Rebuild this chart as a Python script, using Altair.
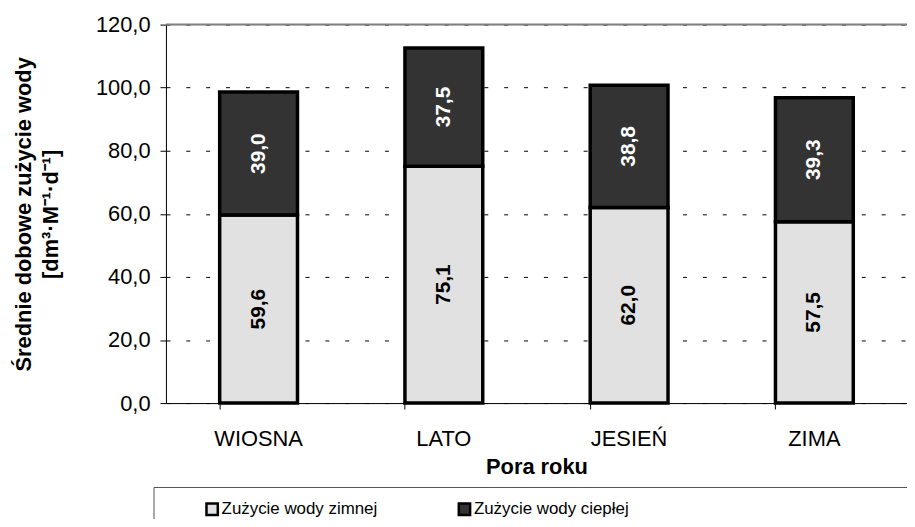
import altair as alt
import pandas as pd

seasons = ["WIOSNA", "LATO", "JESIEŃ", "ZIMA"]
cold = [59.6, 75.1, 62.0, 57.5]
hot = [39.0, 37.5, 38.8, 39.3]
series = ["Zużycie wody zimnej", "Zużycie wody ciepłej"]
y_ticks = [0, 20, 40, 60, 80, 100, 120]

rows = []
for i, s in enumerate(seasons):
    rows.append({"pora": s, "seria": series[0], "wartosc": cold[i], "kol": 0})
    rows.append({"pora": s, "seria": series[1], "wartosc": hot[i], "kol": 1})
df = pd.DataFrame(rows)

FONT = "Liberation Sans"
FS = 22
W, H = 746, 381

x_enc = alt.X(
    "pora:N", sort=seasons,
    scale=alt.Scale(paddingInner=0.58, paddingOuter=0.29),
    axis=alt.Axis(title="Pora roku", labelAngle=0, bandPosition=0, ticks=True,
                  tickSize=6, tickColor="black", domainColor="black",
                  labelFontSize=FS, labelFont=FONT, labelColor="black",
                  labelPadding=20, titleFontSize=FS, titleFont=FONT,
                  titleFontWeight="bold", titleColor="black", titlePadding=7,
                  grid=False),
)
y_scale = alt.Scale(domain=[0, 120], nice=False)

base = alt.Chart(df).transform_stack(
    stack="wartosc", groupby=["pora"], as_=["y0", "y1"],
    sort=[alt.SortField("kol", order="ascending")],
).transform_calculate(
    mid="(datum.y0 + datum.y1) / 2",
    lab="replace(format(datum.wartosc, '.1f'), '.', ',')",
)

bars = base.mark_bar(stroke="black", strokeWidth=3.5).encode(
    x=x_enc,
    y=alt.Y("y0:Q", scale=y_scale,
            axis=alt.Axis(values=y_ticks, title=["Średnie dobowe zużycie wody", "[dm³·M⁻¹·d⁻¹]"],
                          labelExpr="replace(format(datum.value, '.1f'), '.', ',')",
                          labelFontSize=FS, labelFont=FONT, labelColor="black",
                          labelPadding=10, tickSize=6, tickColor="black",
                          domainColor="black", grid=True, gridColor="black",
                          gridDash=[4, 16], gridWidth=1,
                          titleFontSize=FS, titleFont=FONT, titleFontWeight="bold",
                          titleColor="black", titlePadding=33, titleLineHeight=27)),
    y2="y1:Q",
    fill=alt.Fill("seria:N", sort=series,
                  scale=alt.Scale(domain=series, range=["#e1e1e1", "#333333"]),
                  legend=alt.Legend(orient="none", legendX=38, legendY=479,
                                    direction="horizontal", columns=2,
                                    title=None, symbolType="square",
                                    symbolSize=130, symbolStrokeColor="black",
                                    symbolStrokeWidth=2.5, labelFontSize=17,
                                    labelFont=FONT, labelColor="black",
                                    labelOffset=1, columnPadding=76,
                                    labelLimit=400)),
    order=alt.Order("kol:Q"),
)

labels = base.mark_text(angle=270, fontWeight="bold", fontSize=21, font=FONT).encode(
    x=alt.X("pora:N", sort=seasons),
    y=alt.Y("mid:Q", scale=y_scale),
    text="lab:N",
    color=alt.Color("seria:N", scale=alt.Scale(domain=series, range=["black", "white"]),
                    legend=None),
)

top_line = alt.Chart(pd.DataFrame({"v": [y_ticks[-1]]})).mark_rule(
    color="#808080", strokeWidth=2).encode(y=alt.Y("v:Q", scale=y_scale))

frame = alt.Chart(pd.DataFrame({"d": [0]})).mark_rect(
    fill=None, stroke="#555555", strokeWidth=1).encode(
    x=alt.value(-12), x2=alt.value(W + 4), y=alt.value(466), y2=alt.value(520))

chart = alt.layer(bars, labels, top_line, frame).resolve_scale(color="independent").properties(
    width=W, height=H,
    autosize=alt.AutoSizeParams(type="none"),
    padding={"left": 159, "top": 15, "right": 0, "bottom": 115},
).configure_view(stroke=None).configure(background="white")

chart.save("out.html", embed_options={"renderer": "svg", "actions": False})
